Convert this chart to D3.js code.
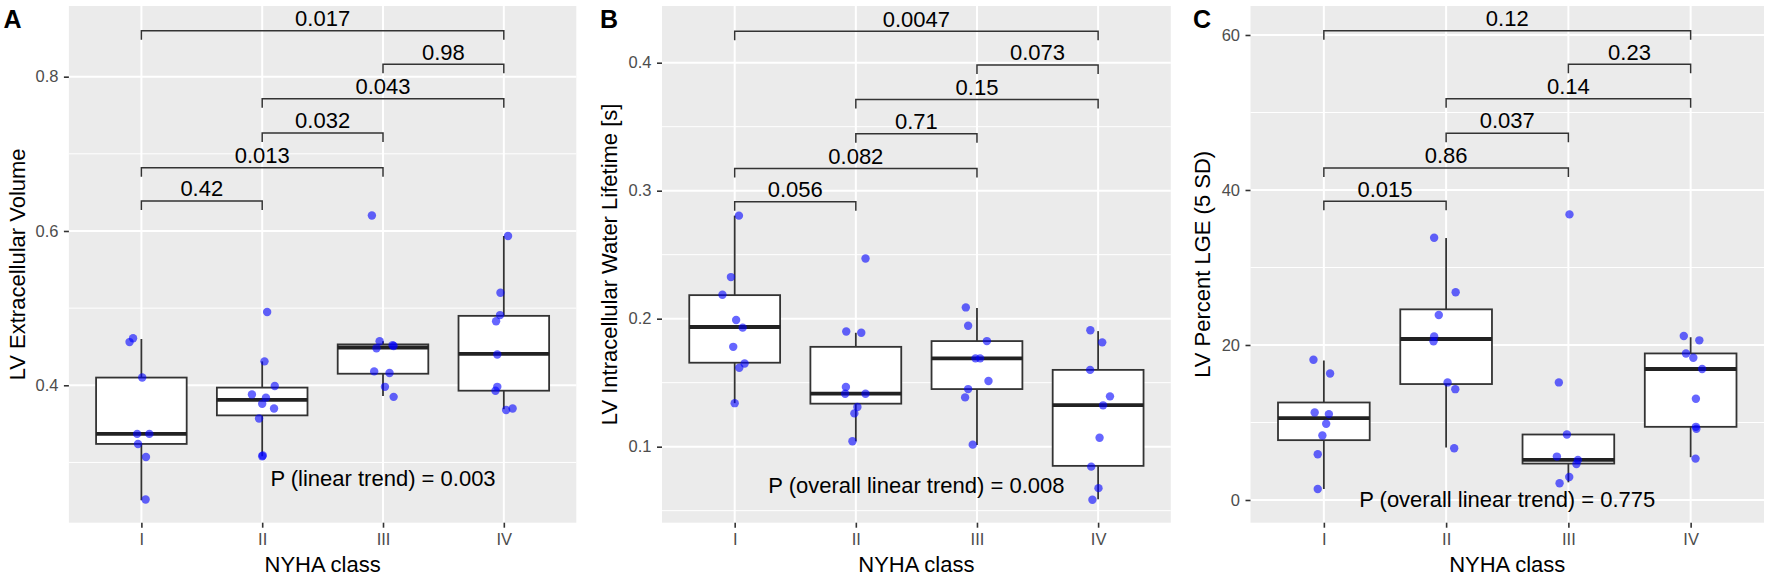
<!DOCTYPE html>
<html>
<head>
<meta charset="utf-8">
<script src="https://cdn.jsdelivr.net/npm/d3@7"></script>
<style>
  body { margin: 0; background: #fff; }
  text { font-family: "Liberation Sans", Arial, Helvetica, sans-serif; }
</style>
</head>
<body>
<div id="chart"></div>
<script>
// NYHA class groups (shared x axis)
const nyhaClasses = ["I", "II", "III", "IV"];
const comparisons = [["I", "II"], ["I", "III"], ["II", "III"], ["II", "IV"], ["III", "IV"], ["I", "IV"]];

// Panel A - LV extracellular volume
const ecvValues = [
  [0.456, 0.461, 0.410, 0.337, 0.337, 0.324, 0.307, 0.252],
  [0.495, 0.431, 0.399, 0.388, 0.384, 0.376, 0.370, 0.357, 0.308, 0.309],
  [0.620, 0.457, 0.448, 0.452, 0.451, 0.418, 0.416, 0.398, 0.385],
  [0.5935, 0.520, 0.491, 0.483, 0.440, 0.398, 0.393, 0.368, 0.370]
];
const ecvJitter = [
  [-0.098, -0.069, 0.007, -0.035, 0.066, -0.028, 0.038, 0.035],
  [0.041, 0.019, 0.104, -0.085, 0.031, 0.0, 0.098, -0.026, 0.0, 0.005],
  [-0.092, -0.028, -0.054, 0.079, 0.088, -0.073, 0.054, 0.016, 0.088],
  [0.035, -0.028, -0.031, -0.064, -0.054, -0.054, -0.069, 0.019, 0.073]
];
// [lower whisker, q1, median, q3, upper whisker]
const ecvBoxes = [
  [0.251, 0.324, 0.337, 0.410, 0.460],
  [0.308, 0.361, 0.381, 0.397, 0.431],
  [0.386, 0.415, 0.449, 0.453, 0.457],
  [0.369, 0.393, 0.4406, 0.490, 0.5935]
];
const ecvTicks = [0.4, 0.6, 0.8];
const ecvMinor = [0.3, 0.5, 0.7];
const ecvPLabels = ["0.42", "0.013", "0.032", "0.043", "0.98", "0.017"];
const ecvBracketY = [0.639, 0.682, 0.727, 0.7715, 0.816, 0.8596];

// Panel B - LV intracellular water lifetime
const iwlValues = [
  [0.2805, 0.2325, 0.2187, 0.199, 0.193, 0.178, 0.165, 0.1617, 0.134],
  [0.247, 0.190, 0.189, 0.1466, 0.1414, 0.1414, 0.131, 0.126, 0.1042],
  [0.2088, 0.1945, 0.1825, 0.169, 0.169, 0.1513, 0.145, 0.1385, 0.1016],
  [0.191, 0.1815, 0.160, 0.1393, 0.1323, 0.107, 0.0844, 0.0676, 0.0585]
];
const iwlJitter = [
  [0.035, -0.031, -0.101, 0.012, 0.066, -0.012, 0.082, 0.038, 0.0],
  [0.080, -0.079, 0.045, -0.082, -0.088, 0.080, 0.013, -0.012, -0.028],
  [-0.092, -0.073, 0.082, -0.012, 0.026, 0.095, -0.073, -0.098, -0.035],
  [-0.064, 0.034, -0.066, 0.098, 0.041, 0.012, -0.057, 0.003, -0.047]
];
const iwlBoxes = [
  [0.134, 0.1656, 0.1935, 0.2184, 0.2805],
  [0.1042, 0.1336, 0.1414, 0.178, 0.189],
  [0.1013, 0.145, 0.169, 0.1825, 0.2083],
  [0.0589, 0.085, 0.1325, 0.160, 0.1903]
];
const iwlTicks = [0.1, 0.2, 0.3, 0.4];
const iwlMinor = [0.05, 0.15, 0.25, 0.35];
const iwlPLabels = ["0.056", "0.082", "0.71", "0.15", "0.073", "0.0047"];
const iwlBracketY = [0.2914, 0.3174, 0.3445, 0.3713, 0.3982, 0.4245];

// Panel C - LV percent LGE (5 SD)
const lgeValues = [
  [18.1, 16.33, 11.29, 11.08, 9.83, 8.32, 5.9, 1.42],
  [33.83, 26.8, 23.87, 21.1, 20.47, 15.17, 14.3, 6.68],
  [36.85, 15.17, 8.45, 5.6, 5.17, 4.65, 2.97, 2.16],
  [21.16, 20.6, 18.9, 18.36, 16.9, 13.06, 9.44, 9.18, 5.34]
];
const lgeJitter = [
  [-0.085, 0.051, -0.075, 0.041, 0.019, -0.012, -0.050, -0.050],
  [-0.098, 0.078, -0.060, -0.098, -0.103, 0.012, 0.075, 0.066],
  [0.009, -0.078, -0.012, -0.094, 0.078, 0.066, 0.007, -0.072],
  [-0.056, 0.071, -0.038, 0.022, 0.094, 0.043, 0.043, 0.047, 0.040]
];
const lgeBoxes = [
  [1.42, 7.72, 10.56, 12.58, 18.0],
  [6.77, 14.96, 20.77, 24.6, 33.8],
  [2.28, 4.7, 5.17, 8.45, 8.45],
  [5.52, 9.44, 16.9, 18.91, 21.0]
];
const lgeTicks = [0, 20, 40, 60];
const lgeMinor = [10, 30, 50];
const lgePLabels = ["0.015", "0.86", "0.037", "0.14", "0.23", "0.12"];
const lgeBracketY = [38.54, 42.84, 47.33, 51.76, 56.21, 60.56];

const width = 1772, height = 578;
const plotTop = 6, plotBottom = 522.7;

const panels = [
  { letter: "A", left: 68.9, right: 576.3, domain: [0.2219, 0.8916], title: "LV Extracellular Volume",
    titleX: 24.5, letterX: 3.5, values: ecvValues, jitter: ecvJitter, boxes: ecvBoxes,
    ticks: ecvTicks, minor: ecvMinor, fmt: d3.format(".1f"), pLabels: ecvPLabels, bracketY: ecvBracketY,
    trend: "P (linear trend) = 0.003", trendX: 3, trendY: 0.2787 },
  { letter: "B", left: 662, right: 1170.8, domain: [0.0406, 0.4443], title: "LV Intracellular Water Lifetime [s]",
    titleX: 617, letterX: 600, values: iwlValues, jitter: iwlJitter, boxes: iwlBoxes,
    ticks: iwlTicks, minor: iwlMinor, fmt: d3.format(".1f"), pLabels: iwlPLabels, bracketY: iwlBracketY,
    trend: "P (overall linear trend) = 0.008", trendX: 2.5, trendY: 0.0697 },
  { letter: "C", left: 1250.5, right: 1764, domain: [-2.93, 63.74], title: "LV Percent LGE (5 SD)",
    titleX: 1209.5, letterX: 1193, values: lgeValues, jitter: lgeJitter, boxes: lgeBoxes,
    ticks: lgeTicks, minor: lgeMinor, fmt: d3.format("d"), pLabels: lgePLabels, bracketY: lgeBracketY,
    trend: "P (overall linear trend) = 0.775", trendX: 2.5, trendY: 0 }
];

const svg = d3.select("#chart").append("svg")
  .attr("width", width)
  .attr("height", height);

function drawPanel(p) {
  const g = svg.append("g");
  const x = d3.scalePoint().domain(nyhaClasses).range([p.left, p.right]).padding(0.6);
  const step = x.step();
  const y = d3.scaleLinear().domain(p.domain).range([plotBottom, plotTop]);
  // fractional category position (1 = "I") -> pixel
  const xPos = v => x(nyhaClasses[0]) + (v - 1) * step;

  // panel background + grid
  g.append("rect")
    .attr("x", p.left).attr("y", plotTop)
    .attr("width", p.right - p.left).attr("height", plotBottom - plotTop)
    .attr("fill", "#ebebeb");
  g.selectAll(".minor").data(p.minor).enter().append("line")
    .attr("x1", p.left).attr("x2", p.right)
    .attr("y1", d => y(d)).attr("y2", d => y(d))
    .attr("stroke", "#fff").attr("stroke-width", 1);
  g.selectAll(".major").data(p.ticks).enter().append("line")
    .attr("x1", p.left).attr("x2", p.right)
    .attr("y1", d => y(d)).attr("y2", d => y(d))
    .attr("stroke", "#fff").attr("stroke-width", 2);
  g.selectAll(".vgrid").data(nyhaClasses).enter().append("line")
    .attr("x1", d => x(d)).attr("x2", d => x(d))
    .attr("y1", plotTop).attr("y2", plotBottom)
    .attr("stroke", "#fff").attr("stroke-width", 2);

  // boxplots
  const half = 0.375 * step;
  p.boxes.forEach((b, i) => {
    const cx = x(nyhaClasses[i]);
    const [lo, q1, med, q3, hi] = b;
    g.append("line").attr("x1", cx).attr("x2", cx).attr("y1", y(q3)).attr("y2", y(hi))
      .attr("stroke", "#333").attr("stroke-width", 1.8);
    g.append("line").attr("x1", cx).attr("x2", cx).attr("y1", y(q1)).attr("y2", y(lo))
      .attr("stroke", "#333").attr("stroke-width", 1.8);
    g.append("rect")
      .attr("x", cx - half).attr("y", y(q3))
      .attr("width", 2 * half).attr("height", y(q1) - y(q3))
      .attr("fill", "#fff").attr("stroke", "#333").attr("stroke-width", 1.8);
    g.append("line").attr("x1", cx - half).attr("x2", cx + half).attr("y1", y(med)).attr("y2", y(med))
      .attr("stroke", "#222").attr("stroke-width", 3.8);
  });

  // jittered points
  p.values.forEach((vals, i) => {
    const cx = x(nyhaClasses[i]);
    g.selectAll(null).data(vals.map((v, j) => ({ v, j: p.jitter[i][j] }))).enter()
      .append("circle")
      .attr("cx", d => cx + d.j * step)
      .attr("cy", d => y(d.v))
      .attr("r", 4.2)
      .attr("fill", "#0000ff").attr("fill-opacity", 0.6);
  });

  // significance brackets
  const tip = 9;
  comparisons.forEach((c, i) => {
    const x1 = x(c[0]), x2 = x(c[1]), yy = y(p.bracketY[i]);
    g.append("path")
      .attr("d", `M${x1},${yy + tip}V${yy}H${x2}V${yy + tip}`)
      .attr("fill", "none").attr("stroke", "#333").attr("stroke-width", 1.5);
    g.append("text")
      .attr("x", (x1 + x2) / 2).attr("y", yy - 4.7)
      .attr("text-anchor", "middle").attr("font-size", 22).attr("fill", "#000")
      .text(p.pLabels[i]);
  });

  // trend annotation
  g.append("text")
    .attr("x", xPos(p.trendX)).attr("y", y(p.trendY))
    .attr("text-anchor", "middle").attr("dominant-baseline", "central")
    .attr("font-size", 22).attr("fill", "#000")
    .text(p.trend);

  // axes
  const yAxis = g.append("g")
    .attr("transform", `translate(${p.left},0)`)
    .call(d3.axisLeft(y).tickValues(p.ticks).tickFormat(p.fmt).tickSize(5).tickPadding(5.5));
  yAxis.select(".domain").remove();
  yAxis.selectAll(".tick line").attr("stroke", "#333").attr("stroke-width", 1.6);
  yAxis.selectAll(".tick text")
    .attr("font-size", 16.5).attr("fill", "#4d4d4d")
    .attr("font-family", "Liberation Sans, Arial, sans-serif");

  const xAxis = g.append("g")
    .attr("transform", `translate(0,${plotBottom})`)
    .call(d3.axisBottom(x).tickSize(5).tickPadding(6));
  xAxis.select(".domain").remove();
  xAxis.selectAll(".tick line").attr("stroke", "#333").attr("stroke-width", 1.6);
  xAxis.selectAll(".tick text")
    .attr("font-size", 16.5).attr("fill", "#4d4d4d")
    .attr("font-family", "Liberation Sans, Arial, sans-serif");

  // axis titles
  g.append("text")
    .attr("x", (p.left + p.right) / 2).attr("y", 571.7)
    .attr("text-anchor", "middle").attr("font-size", 22).attr("fill", "#000")
    .text("NYHA class");
  g.append("text")
    .attr("transform", `translate(${p.titleX},${(plotTop + plotBottom) / 2}) rotate(-90)`)
    .attr("text-anchor", "middle")
    .attr("font-size", 22)
    .attr("fill", "#000")
    .text(p.title);

  // panel letter
  g.append("text")
    .attr("x", p.letterX).attr("y", 28)
    .attr("font-size", 25).attr("font-weight", "bold").attr("fill", "#000")
    .text(p.letter);
}

panels.forEach(drawPanel);
</script>
</body>
</html>
